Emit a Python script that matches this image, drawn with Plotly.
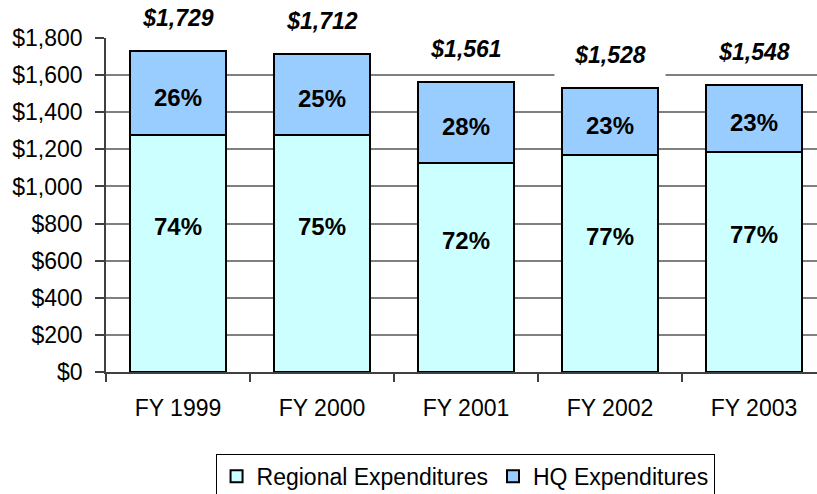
import plotly.graph_objects as go

categories = ["FY 1999", "FY 2000", "FY 2001", "FY 2002", "FY 2003"]
regional = [1275, 1275, 1125, 1168, 1186]
hq = [454, 437, 436, 360, 362]
totals = [1729, 1712, 1561, 1528, 1548]
total_labels = ["$1,729", "$1,712", "$1,561", "$1,528", "$1,548"]
regional_pct = ["74%", "75%", "72%", "77%", "77%"]
hq_pct = ["26%", "25%", "28%", "23%", "23%"]
y_ticks = list(range(0, 1801, 200))

FONT = "Liberation Sans, Arial, sans-serif"

fig = go.Figure()
fig.add_trace(go.Bar(
    x=categories, y=regional, name="Regional Expenditures",
    marker=dict(color="#CCFFFF", line=dict(color="#000000", width=2)),
    width=0.667,
))
fig.add_trace(go.Bar(
    x=categories, y=hq, name="HQ Expenditures",
    marker=dict(color="#99CCFF", line=dict(color="#000000", width=2)),
    width=0.667,
))

annotations = []
for c, r, h, t, tl, rp, hp in zip(categories, regional, hq, totals, total_labels, regional_pct, hq_pct):
    annotations.append(dict(
        x=c, y=t, xref="x", yref="y", text=tl, showarrow=False, yshift=33,
        font=dict(family=FONT, size=23, color="#000000", weight="bold", style="italic"),
        bgcolor="#FFFFFF", width=108, height=40,
    ))
    annotations.append(dict(
        x=c, y=r / 2, xref="x", yref="y", text=rp, showarrow=False, yshift=27,
        font=dict(family=FONT, size=24, color="#000000", weight="bold"),
    ))
    annotations.append(dict(
        x=c, y=r + h / 2, xref="x", yref="y", text=hp, showarrow=False, yshift=-4,
        font=dict(family=FONT, size=24, color="#000000", weight="bold"),
    ))

fig.update_layout(
    barmode="stack",
    width=817, height=504,
    margin=dict(l=106, r=0, t=38, b=132),
    paper_bgcolor="#FFFFFF", plot_bgcolor="#FFFFFF",
    font=dict(family=FONT, size=23, color="#000000"),
    showlegend=True,
    legend=dict(
        orientation="h", x=0.505, xanchor="center", y=-0.245, yanchor="top",
        bordercolor="#000000", borderwidth=1, bgcolor="#FFFFFF",
        font=dict(family=FONT, size=23, color="#000000"),
        traceorder="normal", itemclick=False,
    ),
    annotations=annotations,
    bargap=0.333,
)
fig.update_xaxes(
    range=[-0.5, 4.4375], showline=True, linecolor="#404040", linewidth=1.5,
    ticks="outside", tickson="boundaries", ticklen=8, tickcolor="#404040", tickwidth=1.5,
    showgrid=False, ticklabelstandoff=15,
    tickfont=dict(family=FONT, size=23, color="#000000"),
)
fig.update_yaxes(
    range=[0, 1800], tickvals=y_ticks, tickformat="$,", showline=True,
    linecolor="#404040", linewidth=1.5, ticks="outside", ticklen=9,
    tickcolor="#404040", tickwidth=1.5, showgrid=True, gridcolor="#808080",
    gridwidth=1.5, zeroline=False, ticklabelstandoff=8,
    tickfont=dict(family=FONT, size=23, color="#000000"),
)

fig.write_html(
    "out.html",
    config={"displayModeBar": False},
    post_script="document.body.style.margin='0';document.body.style.overflow='hidden';",
)
